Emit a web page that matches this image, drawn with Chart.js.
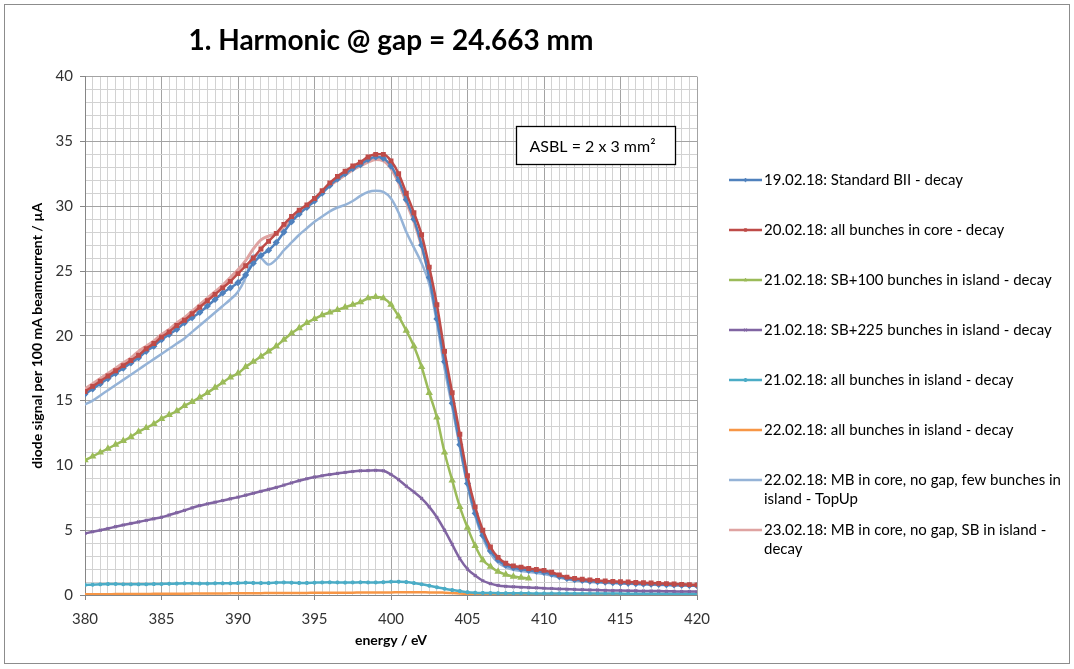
<!DOCTYPE html>
<html><head><meta charset="utf-8">
<script src="https://cdn.jsdelivr.net/npm/chart.js@4/dist/chart.umd.min.js"></script>
<style>html,body{margin:0;padding:0;background:#fff;}#wrap{width:1074px;height:669px;position:relative;}</style>
</head><body><div id="wrap"><canvas id="c" width="1074" height="669"></canvas></div>
<script>
const energy = [380,380.5,381,381.5,382,382.5,383,383.5,384,384.5,385,385.5,386,386.5,387,387.5,388,388.5,389,389.5,
390,390.5,391,391.5,392,392.5,393,393.5,394,394.5,395,395.5,396,396.5,397,397.5,398,398.5,399,399.5,
400,400.5,401,401.5,402,402.5,403,403.5,404,404.5,405,405.5,406,406.5,407,407.5,408,408.5,409,409.5,
410,410.5,411,411.5,412,412.5,413,413.5,414,414.5,415,415.5,416,416.5,417,417.5,418,418.5,419,419.5,420];

const s190218 = [15.5,15.9,16.3,16.7,17.1,17.5,17.9,18.3,18.8,19.2,19.7,20.1,20.5,21.0,21.4,21.8,22.3,22.8,23.3,23.7,
24.1,24.7,25.6,26.2,26.6,27.2,28.0,28.8,29.4,29.9,30.4,31.0,31.6,32.1,32.5,32.9,33.2,33.6,33.8,33.7,
33.1,32.0,30.5,29.0,27.0,24.5,21.3,18.0,14.8,11.6,8.6,6.3,4.6,3.4,2.7,2.3,2.1,2.0,1.9,1.83,
1.75,1.6,1.42,1.28,1.18,1.12,1.07,1.02,0.98,0.95,0.92,0.9,0.87,0.85,0.83,0.81,0.79,0.77,0.75,0.73,0.72];

const s200218 = [15.7,16.1,16.5,16.9,17.3,17.7,18.1,18.5,19.0,19.4,19.9,20.3,20.8,21.2,21.7,22.2,22.7,23.2,23.7,24.2,
24.8,25.4,26.0,26.7,27.3,27.9,28.6,29.2,29.7,30.1,30.6,31.2,31.8,32.3,32.7,33.1,33.4,33.8,34.0,34.0,
33.5,32.5,31.0,29.5,27.8,25.3,22.4,18.8,15.6,12.4,9.2,6.8,5.0,3.7,2.9,2.45,2.25,2.15,2.05,1.97,
1.9,1.75,1.55,1.38,1.28,1.22,1.17,1.12,1.08,1.05,1.02,1.0,0.97,0.94,0.92,0.9,0.88,0.85,0.82,0.8,0.78];

const energyGreen = [380,380.5,381,381.5,382,382.5,383,383.5,384,384.5,385,385.5,386,386.5,387,387.5,388,388.5,389,389.5,
390,390.5,391,391.5,392,392.5,393,393.5,394,394.5,395,395.5,396,396.5,397,397.5,398,398.5,399,399.5,
400,400.5,401,401.5,402,402.5,403,403.5,404,404.5,405,405.5,406,406.5,407,407.5,408,408.5,409];
const s210218_100 = [10.4,10.7,11.0,11.3,11.6,11.9,12.2,12.6,12.9,13.2,13.6,13.9,14.2,14.6,14.9,15.25,15.6,16.0,16.4,16.8,
17.1,17.6,18.0,18.4,18.8,19.2,19.7,20.2,20.6,21.0,21.3,21.6,21.8,22.0,22.2,22.4,22.6,22.9,23.0,22.9,
22.4,21.5,20.4,19.2,17.6,15.6,13.7,11.0,8.85,6.8,5.2,3.8,2.7,2.2,1.8,1.58,1.42,1.35,1.28];

const s210218_225 = [4.75,4.88,5.0,5.13,5.27,5.4,5.52,5.64,5.76,5.88,6.0,6.17,6.35,6.53,6.72,6.9,7.03,7.16,7.29,7.42,
7.55,7.7,7.85,8.0,8.15,8.3,8.48,8.65,8.82,8.97,9.1,9.2,9.3,9.38,9.46,9.53,9.58,9.6,9.62,9.58,
9.3,8.9,8.4,7.95,7.45,6.8,6.0,5.0,3.9,2.8,2.0,1.5,1.1,0.88,0.74,0.67,0.63,0.6,0.57,0.55,
0.52,0.5,0.47,0.45,0.43,0.41,0.39,0.38,0.36,0.35,0.34,0.33,0.32,0.31,0.3,0.3,0.29,0.28,0.27,0.27,0.26];

const s210218_all = [0.78,0.8,0.82,0.84,0.85,0.83,0.82,0.82,0.83,0.84,0.85,0.87,0.88,0.9,0.9,0.88,0.88,0.9,0.9,0.9,
0.92,0.95,0.93,0.92,0.92,0.95,0.97,0.95,0.93,0.93,0.95,0.97,0.98,0.97,0.96,0.97,0.98,0.97,0.97,0.99,
1.02,1.03,1.0,0.92,0.83,0.72,0.6,0.48,0.38,0.3,0.22,0.18,0.16,0.15,0.14,0.14,0.13,0.13,0.13,0.12,
0.12,0.12,0.12,0.12,0.11,0.11,0.11,0.11,0.11,0.11,0.11,0.1,0.1,0.1,0.1,0.1,0.1,0.1,0.1,0.1,0.1];

const s220218_all = [0.05,0.05,0.06,0.06,0.07,0.07,0.08,0.08,0.08,0.09,0.09,0.1,0.1,0.1,0.11,0.11,0.12,0.12,0.12,0.13,
0.13,0.14,0.14,0.14,0.15,0.15,0.15,0.16,0.16,0.16,0.17,0.17,0.17,0.18,0.18,0.18,0.19,0.19,0.2,0.2,
0.2,0.21,0.21,0.21,0.21,0.2,0.2,0.18,0.15,0.12,0.09,0.06,0.05,0.04,0.04,0.04,0.04,0.04,0.04,0.04,
0.04,0.04,0.04,0.04,0.04,0.04,0.04,0.04,0.04,0.04,0.04,0.04,0.04,0.04,0.04,0.04,0.04,0.04,0.04,0.04,0.04];

const s220218_mb = [14.7,15.0,15.4,15.8,16.2,16.6,17.0,17.4,17.8,18.2,18.6,19.0,19.4,19.8,20.3,20.8,21.3,21.8,22.3,22.8,
23.4,24.5,26.2,26.0,25.5,25.9,26.6,27.2,27.8,28.3,28.8,29.2,29.6,29.9,30.1,30.4,30.8,31.1,31.2,31.1,
30.6,29.5,28.0,26.8,25.6,24.0,21.0,17.5,14.5,11.4,8.4,6.1,4.4,3.2,2.5,2.15,1.95,1.85,1.78,1.7,
1.62,1.5,1.35,1.22,1.12,1.06,1.01,0.97,0.94,0.91,0.88,0.86,0.84,0.82,0.8,0.78,0.77,0.75,0.74,0.73,0.72];

const s230218 = [15.9,16.3,16.7,17.1,17.5,17.9,18.3,18.8,19.2,19.6,20.1,20.5,21.0,21.4,21.9,22.4,22.9,23.4,23.9,24.5,
25.1,25.8,26.7,27.4,27.7,27.9,28.4,29.0,29.6,30.1,30.6,31.1,31.6,32.0,32.4,32.8,33.1,33.4,33.6,33.5,
32.9,31.8,30.3,28.8,26.9,24.6,21.6,18.3,15.0,11.9,8.9,6.5,4.8,3.5,2.8,2.4,2.2,2.1,2.0,1.9,
1.8,1.65,1.48,1.33,1.22,1.15,1.1,1.06,1.02,0.99,0.96,0.94,0.92,0.9,0.88,0.86,0.84,0.82,0.8,0.79,0.78];

const seriesNames = [
  '19.02.18: Standard BII - decay',
  '20.02.18: all bunches in core - decay',
  '21.02.18: SB+100 bunches in island - decay',
  '21.02.18: SB+225 bunches in island - decay',
  '21.02.18: all bunches in island - decay',
  '22.02.18: all bunches in island - decay',
  '22.02.18: MB in core, no gap, few bunches in island - TopUp',
  '23.02.18: MB in core, no gap, SB in island - decay'
];
const xTickLabels = ['380','385','390','395','400','405','410','415','420'];
const yTickLabels = ['0','5','10','15','20','25','30','35','40'];
const titleText = '1. Harmonic @ gap = 24.663 mm';
const xTitle = 'energy / eV';
const yTitle = 'diode signal per 100 mA beamcurrent / µA';
const noteText = 'ASBL = 2 x 3 mm²';

function pts(xs, ys){ return ys.map((v,i)=>({x:xs[i], y:v})); }

const FONT = "Lato, 'Liberation Sans', sans-serif";

const datasets = [
  {label:seriesNames[0], data:pts(energy,s190218), borderColor:'#4F81BD', pointStyle:'rectRot', pointRadius:1.8, borderWidth:2.5, order:3},
  {label:seriesNames[1], data:pts(energy,s200218), borderColor:'#BE4B48', pointStyle:'rect', pointRadius:1.7, borderWidth:2.5, order:1},
  {label:seriesNames[2], data:pts(energyGreen,s210218_100), borderColor:'#9BBB59', pointStyle:'triangle', pointRadius:1.8, borderWidth:2.5, order:2},
  {label:seriesNames[3], data:pts(energy,s210218_225), borderColor:'#8064A2', pointStyle:'crossRot', pointRadius:2, pointBorderWidth:1.2, borderWidth:2.5, order:2},
  {label:seriesNames[4], data:pts(energy,s210218_all), borderColor:'#4BACC6', pointStyle:'star', pointRadius:2, pointBorderWidth:1.2, borderWidth:2.5, order:2},
  {label:seriesNames[5], data:pts(energy,s220218_all), borderColor:'#F79646', pointRadius:0, borderWidth:2.5, order:2},
  {label:seriesNames[6], data:pts(energy,s220218_mb), borderColor:'#95B3D7', pointRadius:0, borderWidth:2.5, order:5},
  {label:seriesNames[7], data:pts(energy,s230218), borderColor:'#DFA3A1', pointRadius:0, borderWidth:3, order:4}
];
datasets.forEach(d=>{ d.backgroundColor=d.borderColor; d.cubicInterpolationMode='monotone'; d.fill=false; d.pointBorderColor=d.borderColor; d.pointHoverRadius=d.pointRadius; });

const PAD = {left:12, right:377, top:8, bottom:12};
const AREA = {left:85, top:75, right:697, bottom:595};

const extras = {
  id:'extras',
  beforeDraw(chart){
    const ctx = chart.ctx;
    ctx.save();
    ctx.fillStyle = '#fff';
    ctx.fillRect(0,0,chart.width,chart.height);
    ctx.restore();
  },
  afterDraw(chart){
    const ctx = chart.ctx;
    const xs = chart.scales.x, ys = chart.scales.y;
    ctx.save();
    ctx.strokeStyle = '#8c8c8c'; ctx.lineWidth = 1;
    ctx.strokeRect(4.5, 4.5, 1065, 659);
    const bx0 = xs.getPixelForValue(408.2), bx1 = xs.getPixelForValue(418.6);
    const by0 = ys.getPixelForValue(36.15), by1 = ys.getPixelForValue(33.2);
    ctx.fillStyle = '#fff';
    ctx.fillRect(bx0, by0, bx1-bx0, by1-by0);
    ctx.strokeStyle = '#000'; ctx.lineWidth = 1.3;
    ctx.strokeRect(Math.round(bx0)+0.5, Math.round(by0)+0.5, Math.round(bx1-bx0), Math.round(by1-by0));
    ctx.fillStyle = '#000';
    ctx.font = "16px " + FONT;
    ctx.textBaseline = 'middle'; ctx.textAlign = 'left';
    ctx.fillText(noteText, bx0 + 13, (by0+by1)/2 + 1);
    const lx0 = 729, lx1 = 762, tx = 764;
    ctx.font = "15px " + FONT;
    chart.data.datasets.forEach((d, i) => {
      const y = 180 + i*50;
      ctx.strokeStyle = d.borderColor; ctx.lineWidth = 2.5;
      ctx.beginPath(); ctx.moveTo(lx0, y); ctx.lineTo(lx1, y); ctx.stroke();
      if (d.pointRadius > 0) {
        ctx.fillStyle = d.borderColor; ctx.strokeStyle = d.borderColor; ctx.lineWidth = d.pointBorderWidth || 1;
        Chart.helpers.drawPoint(ctx, {pointStyle:d.pointStyle, radius:d.pointRadius, rotation:0, borderWidth:d.pointBorderWidth||1}, (lx0+lx1)/2, y);
      }
      const words = d.label.split(' ');
      const lines = []; let cur = '';
      words.forEach(w => {
        const t = cur ? cur + ' ' + w : w;
        if (ctx.measureText(t).width > 304 && cur) { lines.push(cur); cur = w; } else cur = t;
      });
      lines.push(cur);
      ctx.fillStyle = '#000'; ctx.textBaseline = 'middle'; ctx.textAlign = 'left';
      lines.forEach((ln, k) => ctx.fillText(ln, tx, y + k*19));
    });
    ctx.restore();
  }
};

const gridColor = (c)=> (c.tick && c.tick.value % 5 === 0) ? '#a3a3a3' : '#d2d2d2';
const tickCol = (c)=> (c.tick && c.tick.value % 5 === 0) ? '#868686' : 'rgba(0,0,0,0)';

new Chart(document.getElementById('c'), {
  type:'line',
  data:{datasets},
  plugins:[extras],
  options:{
    responsive:false, animation:false, devicePixelRatio:1,
    layout:{padding:PAD},
    elements:{line:{borderCapStyle:'round', borderJoinStyle:'round'}},
    plugins:{
      legend:{display:false}, tooltip:{enabled:false},
      title:{display:true, text:titleText, fullSize:false, color:'#000',
        font:{family:FONT, size:28, weight:'bold'}, padding:{top:16, bottom:19}}
    },
    scales:{
      x:{type:'linear', min:380, max:420,
        afterFit(s){ s.height = 669 - PAD.bottom - AREA.bottom; },
        ticks:{stepSize:0.5, autoSkip:false, maxRotation:0, color:'#333', padding:10,
          font:{family:FONT, size:15},
          callback:(v)=> xTickLabels.includes(String(v)) ? String(v) : ''},
        grid:{color:gridColor, tickColor:tickCol, tickLength:5, lineWidth:1},
        border:{color:'#868686', width:1},
        title:{display:true, text:xTitle, color:'#000', font:{family:FONT, size:14, weight:'bold'}, padding:{top:4, bottom:8}}
      },
      y:{type:'linear', min:0, max:40,
        afterFit(s){ s.width = AREA.left - PAD.left; },
        ticks:{stepSize:1, autoSkip:false, color:'#333', padding:7,
          font:{family:FONT, size:15},
          callback:(v)=> yTickLabels.includes(String(v)) ? String(v) : ''},
        grid:{color:gridColor, tickColor:tickCol, tickLength:5, lineWidth:1},
        border:{color:'#868686', width:1},
        title:{display:true, text:yTitle, color:'#000', font:{family:FONT, size:14, weight:'bold'}, padding:{top:17, bottom:4}}
      }
    }
  }
});
</script>
</body></html>
